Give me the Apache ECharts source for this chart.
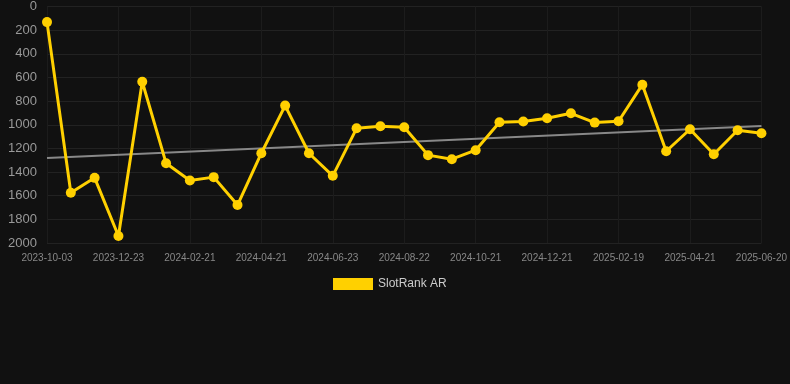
<!DOCTYPE html>
<html>
<head>
<meta charset="utf-8">
<script src="https://cdn.jsdelivr.net/npm/echarts@6/dist/echarts.min.js"></script>
<style>
html,body{margin:0;padding:0;background:#111111;}
#chart{width:790px;height:384px;}
</style>
</head>
<body>
<div id="chart"></div>
<script>
var categories = ['2023-10-03','2023-10-30','2023-11-26','2023-12-23','2024-01-12','2024-02-01','2024-02-21','2024-03-12','2024-04-01','2024-04-21','2024-05-12','2024-06-02','2024-06-23','2024-07-13','2024-08-02','2024-08-22','2024-09-11','2024-10-01','2024-10-21','2024-11-10','2024-12-01','2024-12-21','2025-01-10','2025-01-30','2025-02-19','2025-03-11','2025-04-01','2025-04-21','2025-05-11','2025-05-31','2025-06-20'];
var slotRankAR = [132,1575,1449,1941,636,1325,1471,1443,1679,1241,838,1241,1432,1030,1013,1021,1257,1291,1215,979,973,945,903,982,970,661,1224,1038,1249,1046,1072];
var trendEnds = [1282, 1010];
var yTicks = [0,200,400,600,800,1000,1200,1400,1600,1800,2000];

var chart = echarts.init(document.getElementById('chart'), null, {renderer:'canvas'});
chart.setOption({
  backgroundColor:'#111111',
  animation:false,
  grid:{left:47,right:28,top:6,bottom:141,containLabel:false},
  legend:{
    top:273,left:328,
    itemWidth:40,itemHeight:12,itemGap:10,
    icon:'rect',
    textStyle:{color:'#cccccc',fontSize:12,fontFamily:'Arial, Liberation Sans, sans-serif'},
    data:['SlotRank AR']
  },
  xAxis:{
    type:'category',
    data:categories,
    boundaryGap:false,
    axisLine:{show:false},
    axisTick:{show:false},
    axisLabel:{interval:2,color:'#888888',fontSize:10,margin:10,fontFamily:'Arial, Liberation Sans, sans-serif'},
    splitLine:{show:true,interval:2,lineStyle:{color:'#1c1c1c',width:1}}
  },
  yAxis:{
    type:'value',
    inverse:true,
    min:yTicks[0],max:yTicks[yTicks.length-1],interval:200,
    axisLine:{show:false},
    axisTick:{show:false},
    axisLabel:{color:'#999999',fontSize:13,margin:10,fontFamily:'Arial, Liberation Sans, sans-serif',formatter:function(v){return String(v);}},
    splitLine:{show:true,lineStyle:{color:'#222222',width:1}}
  },
  series:[
    {
      name:'SlotRank AR',
      type:'line',
      data:slotRankAR,
      symbol:'circle',
      symbolSize:10,
      itemStyle:{color:'#FFD000'},
      lineStyle:{color:'#FFD000',width:3},
      z:3
    },
    {
      name:'trend',
      type:'line',
      data:[[categories[0],trendEnds[0]],[categories[categories.length-1],trendEnds[1]]],
      symbol:'none',
      lineStyle:{color:'#888888',width:2},
      z:2,
      silent:true
    }
  ]
});
</script>
</body>
</html>
